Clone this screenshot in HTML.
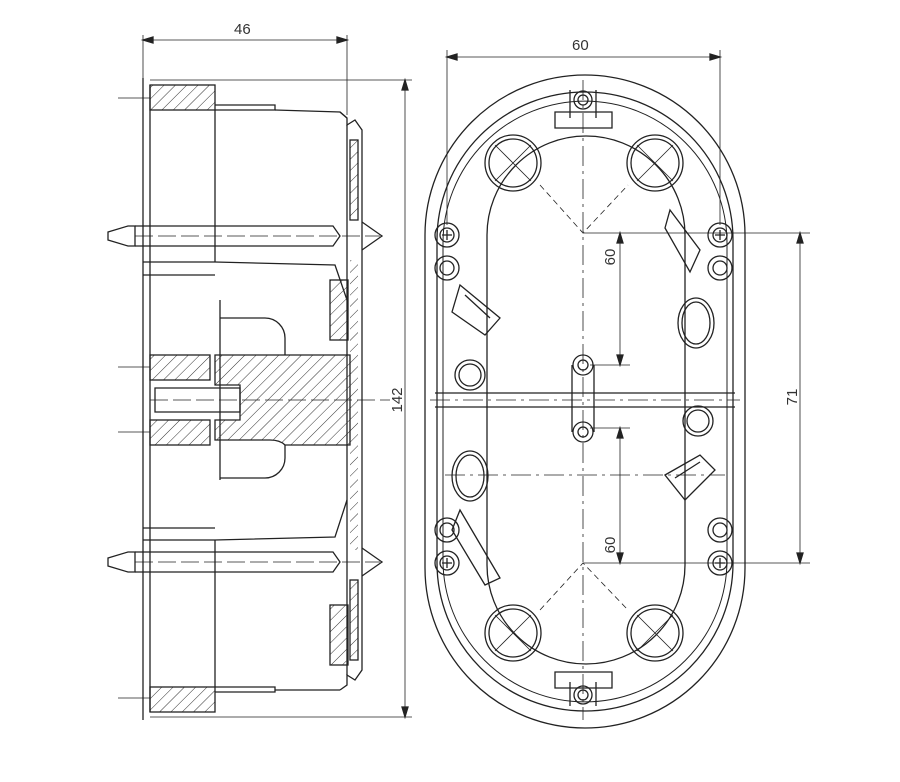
<!DOCTYPE html>
<html><head><meta charset="utf-8"><style>
html,body{margin:0;padding:0;background:#fff}
svg{display:block}
text{font-family:"Liberation Sans",sans-serif;font-size:15px;fill:#333}
</style></head><body>
<svg width="900" height="782" viewBox="0 0 900 782" xmlns="http://www.w3.org/2000/svg">
<defs>
<pattern id="h" width="8" height="8" patternUnits="userSpaceOnUse" patternTransform="rotate(45)">
<line x1="0" y1="0" x2="0" y2="8" stroke="#333" stroke-width="1"/>
</pattern>
</defs>
<g fill="none" stroke="#222" stroke-width="1.3">
<!-- ===== LEFT SIDE VIEW ===== -->
<!-- dimension 46 -->
<line x1="143" y1="35" x2="143" y2="80" stroke-width="0.8"/>
<line x1="347" y1="35" x2="347" y2="115" stroke-width="0.8"/>
<line x1="143" y1="40" x2="347" y2="40" stroke-width="0.8"/>
<path d="M143 40 l10 -3 v6z M347 40 l-10 -3 v6z" fill="#222"/>
<!-- dimension 142 -->
<line x1="150" y1="80" x2="412" y2="80" stroke-width="0.8"/>
<line x1="150" y1="717" x2="412" y2="717" stroke-width="0.8"/>
<line x1="405" y1="80" x2="405" y2="717" stroke-width="0.8"/>
<path d="M405 80 l-3 10 h6z M405 717 l-3 -10 h6z" fill="#222"/>
<!-- back line -->
<line x1="143" y1="78" x2="143" y2="720"/>
<line x1="150" y1="85" x2="150" y2="712"/>
<!-- top lug -->
<rect x="150" y="85" width="65" height="25" fill="url(#h)"/>
<path d="M215 105 H275 V110 H215"/>
<path d="M215 110 V262 M275 110 L340 112 L347 118"/>
<line x1="118" y1="98" x2="150" y2="98" stroke-width="0.8"/>
<!-- flange right -->
<path d="M340 112 L347 118 L347 125 L355 120 L362 130 L362 670 L355 680 L347 675 L347 685 L340 690"/>
<path d="M347 125 L347 675"/>
<rect x="350" y="140" width="8" height="80" fill="url(#h)"/>
<rect x="350" y="260" width="8" height="290" fill="url(#h)" stroke="none"/>
<rect x="350" y="580" width="8" height="80" fill="url(#h)"/>
<!-- screws -->
<g>
<path d="M108 232 L128 226 L135 226 L135 246 L128 246 L108 240 Z"/>
<path d="M135 226 H333 L340 236 L333 246 H135"/>
<line x1="135" y1="236" x2="380" y2="236" stroke-dasharray="18 5" stroke-width="0.8"/>
<path d="M362 222 L382 236 L362 250"/>
<path d="M108 558 L128 552 L135 552 L135 572 L128 572 L108 566 Z"/>
<path d="M135 552 H333 L340 562 L333 572 H135"/>
<line x1="135" y1="562" x2="380" y2="562" stroke-dasharray="18 5" stroke-width="0.8"/>
<path d="M362 548 L382 562 L362 576"/>
</g>
<!-- horizontal walls -->
<path d="M143 262 H215 M143 275 H215 M215 262 L335 265 L347 300"/>
<path d="M143 540 H215 M143 528 H215 M215 540 L335 537 L347 500"/>
<rect x="330" y="280" width="18" height="60" fill="url(#h)"/>
<rect x="330" y="605" width="18" height="60" fill="url(#h)"/>
<!-- knockouts arcs -->
<path d="M220 318 H265 A20 20 0 0 1 285 338 V355"/>
<path d="M220 478 H265 A20 20 0 0 0 285 458 V445"/>
<line x1="220" y1="300" x2="220" y2="480"/>
<!-- central hatched section -->
<path d="M215 355 H350 V445 H285 Q280 440 270 440 H215 V420 H240 V385 H215 Z" fill="url(#h)"/>
<rect x="150" y="355" width="60" height="25" fill="url(#h)"/>
<rect x="150" y="420" width="60" height="25" fill="url(#h)"/>
<path d="M155 388 H240 V412 H155 Z"/>
<line x1="118" y1="367" x2="150" y2="367" stroke-width="0.8"/>
<line x1="118" y1="432" x2="150" y2="432" stroke-width="0.8"/>
<line x1="150" y1="400" x2="390" y2="400" stroke-dasharray="18 5" stroke-width="0.8"/>
<!-- bottom lug -->
<rect x="150" y="687" width="65" height="25" fill="url(#h)"/>
<path d="M215 687 H275 V692 H215"/>
<path d="M215 540 V687 M275 690 L340 690"/>
<line x1="118" y1="698" x2="150" y2="698" stroke-width="0.8"/>

<!-- ===== RIGHT TOP VIEW ===== -->
<line x1="447" y1="50" x2="447" y2="225" stroke-width="0.8"/>
<line x1="720" y1="50" x2="720" y2="225" stroke-width="0.8"/>
<line x1="447" y1="57" x2="720" y2="57" stroke-width="0.8"/>
<path d="M447 57 l10 -3 v6z M720 57 l-10 -3 v6z" fill="#222"/>
<!-- outer racetrack -->
<path d="M425 235 A160 160 0 0 1 745 235 V568 A160 160 0 0 1 425 568 Z"/>
<path d="M437 240 A148 148 0 0 1 733 240 V563 A148 148 0 0 1 437 563 Z"/>
<path d="M443 243 A142 142 0 0 1 727 243 V560 A142 142 0 0 1 443 560 Z" stroke-width="1"/>
<!-- inner rounded rect -->
<path d="M487 235 A99 99 0 0 1 685 235 V565 A99 99 0 0 1 487 565 Z"/>
<!-- center lines -->
<line x1="583" y1="80" x2="583" y2="720" stroke-dasharray="20 5 3 5" stroke-width="0.8"/>
<line x1="430" y1="400" x2="740" y2="400" stroke-dasharray="20 5 3 5" stroke-width="0.8"/>
<line x1="445" y1="475" x2="725" y2="475" stroke-dasharray="20 5 3 5" stroke-width="0.8"/>
<path d="M435 393 H735 M435 407 H735"/>
<!-- knockouts big -->
<g>
<circle cx="513" cy="163" r="28"/><circle cx="513" cy="163" r="24"/>
<circle cx="655" cy="163" r="28"/><circle cx="655" cy="163" r="24"/>
<circle cx="513" cy="633" r="28"/><circle cx="513" cy="633" r="24"/>
<circle cx="655" cy="633" r="28"/><circle cx="655" cy="633" r="24"/>
</g>
<path d="M540 185 L583 233 L628 185 M540 610 L583 563 L628 610" stroke-dasharray="6 4" stroke-width="0.8"/>
<path d="M495 145 L531 181 M531 145 L495 181 M637 145 L673 181 M673 145 L637 181 M495 615 L531 651 M531 615 L495 651 M637 615 L673 651 M673 615 L637 651" stroke-width="0.8"/>
<!-- small holes -->
<circle cx="470" cy="375" r="15"/><circle cx="470" cy="375" r="11"/>
<circle cx="698" cy="421" r="15"/><circle cx="698" cy="421" r="11"/>
<ellipse cx="696" cy="323" rx="18" ry="25"/><ellipse cx="696" cy="323" rx="14" ry="21"/>
<ellipse cx="470" cy="476" rx="18" ry="25"/><ellipse cx="470" cy="476" rx="14" ry="21"/>
<!-- screw posts -->
<g>
<circle cx="447" cy="235" r="12"/><circle cx="447" cy="235" r="7"/>
<path d="M442 235 h10 M447 230 v10"/>
<circle cx="447" cy="268" r="12"/><circle cx="447" cy="268" r="7"/>
<circle cx="720" cy="235" r="12"/><circle cx="720" cy="235" r="7"/>
<path d="M715 235 h10 M720 230 v10"/>
<circle cx="720" cy="268" r="12"/><circle cx="720" cy="268" r="7"/>
<circle cx="447" cy="530" r="12"/><circle cx="447" cy="530" r="7"/>
<circle cx="447" cy="563" r="12"/><circle cx="447" cy="563" r="7"/>
<path d="M442 563 h10 M447 558 v10"/>
<circle cx="720" cy="530" r="12"/><circle cx="720" cy="530" r="7"/>
<circle cx="720" cy="563" r="12"/><circle cx="720" cy="563" r="7"/>
<path d="M715 563 h10 M720 558 v10"/>
<circle cx="583" cy="365" r="10"/><circle cx="583" cy="365" r="5"/>
<circle cx="583" cy="432" r="10"/><circle cx="583" cy="432" r="5"/>
<path d="M572 365 V432 M594 365 V432"/>
<circle cx="583" cy="100" r="9"/><circle cx="583" cy="100" r="5"/>
<circle cx="583" cy="695" r="9"/><circle cx="583" cy="695" r="5"/>
<path d="M555 112 H612 V128 H555 Z M570 90 V118 M596 90 V118"/>
<path d="M555 672 H612 V688 H555 Z M570 682 V706 M596 682 V706"/>
</g>
<!-- claws -->
<path d="M460 285 L500 318 L485 335 L452 312 Z M465 295 L490 318"/>
<path d="M670 210 L700 250 L690 272 L665 228 Z"/>
<path d="M665 475 L700 455 L715 470 L685 500 Z M675 478 L700 462"/>
<path d="M460 510 L500 578 L485 585 L452 530 Z"/>
<!-- dims right -->
<line x1="583" y1="233" x2="810" y2="233" stroke-width="0.8"/>
<line x1="583" y1="563" x2="810" y2="563" stroke-width="0.8"/>
<line x1="800" y1="233" x2="800" y2="563" stroke-width="0.8"/>
<path d="M800 233 l-3 10 h6z M800 563 l-3 -10 h6z" fill="#222"/>
<line x1="620" y1="233" x2="620" y2="365" stroke-width="0.8"/>
<line x1="620" y1="428" x2="620" y2="563" stroke-width="0.8"/>
<path d="M620 233 l-3 10 h6z M620 365 l-3 -10 h6z M620 428 l-3 10 h6z M620 563 l-3 -10 h6z" fill="#222"/>
<line x1="590" y1="365" x2="630" y2="365" stroke-width="0.8"/>
<line x1="590" y1="428" x2="630" y2="428" stroke-width="0.8"/>
</g>
<text x="234" y="34">46</text>
<text x="572" y="50">60</text>
<text transform="translate(402,400) rotate(-90)" text-anchor="middle">142</text>
<text transform="translate(797,397) rotate(-90)" text-anchor="middle">71</text>
<text transform="translate(615,257) rotate(-90)" text-anchor="middle">60</text>
<text transform="translate(615,545) rotate(-90)" text-anchor="middle">60</text>
</svg>
</body></html>
